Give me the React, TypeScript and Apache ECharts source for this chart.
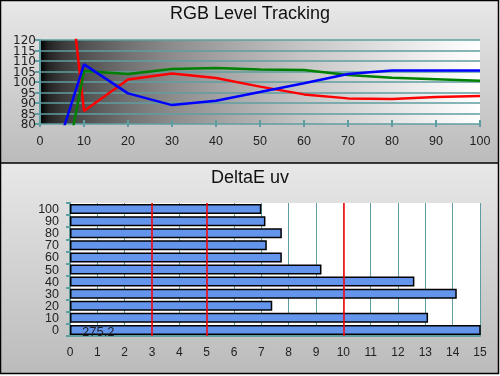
import React, { useEffect, useRef } from "react";
import * as echarts from "echarts";

const levels = [5, 10, 20, 30, 40, 50, 60, 70, 80, 90, 100];
const redValues = [180, 86.2, 101.2, 104.0, 101.9, 97.8, 94.1, 92.2, 91.9, 92.9, 93.3];
const greenValues = [51, 105.2, 103.8, 106.2, 106.7, 106.0, 105.7, 103.3, 102.0, 101.3, 100.6];
const blueValues = [75.5, 108.4, 94.6, 89.0, 91.1, 95.2, 99.4, 103.8, 105.5, 105.5, 105.5];
const levelTicksEven = [80, 90, 100, 110, 120];
const levelTicksOdd = [85, 95, 105, 115];

const deltaCategories = ["0", "10", "20", "30", "40", "50", "60", "70", "80", "90", "100"];
const deltaValues = [275.2, 13.1, 7.4, 14.15, 12.6, 9.2, 7.75, 7.2, 7.75, 7.15, 7.0];
const thresholdLines = [3, 5, 10];

const TEAL = "#5F9EA0";
const FONT = "Arial, 'Liberation Sans', sans-serif";
const YFONT = "'DejaVu Sans', sans-serif";

export default function App() {
  const ref = useRef<HTMLDivElement>(null);
  useEffect(() => {
    document.body.style.margin = "0";
    const chart = echarts.init(ref.current!, undefined, { renderer: "svg" });
    const pair = (vals: number[]) => levels.map((l, i) => [l, vals[i]]);
    const stops = [0, 0.02, 0.05, 0.1, 0.2, 0.3, 0.4, 0.5, 0.6, 0.7, 0.8, 0.9, 1].map((t) => {
      const c = Math.round(Math.sqrt(t) * 255);
      return { offset: t, color: `rgb(${c},${c},${c})` };
    });
    const panelGrad = () =>
      new echarts.graphic.LinearGradient(0, 0, 0, 1, [
        { offset: 0, color: "#e8e8e8" },
        { offset: 1, color: "#bbbbbb" },
      ]);
    const yLabel = {
      margin: 4,
      showMinLabel: true,
      showMaxLabel: true,
      hideOverlap: false,
      fontFamily: YFONT,
      fontSize: 12,
      color: "#222",
    };
    chart.setOption({
      animation: false,
      title: [
        {
          text: "RGB Level Tracking",
          left: "center",
          top: 4,
          padding: 0,
          textStyle: { fontFamily: FONT, fontSize: 18, fontWeight: "normal", color: "#111" },
        },
        {
          text: "DeltaE uv",
          left: "center",
          top: 168,
          padding: 0,
          textStyle: { fontFamily: FONT, fontSize: 18, fontWeight: "normal", color: "#111" },
        },
      ],
      graphic: [
        { type: "rect", z: -30, shape: { x: 0, y: 0, width: 499, height: 163 }, style: { fill: panelGrad() } },
        { type: "rect", z: -30, shape: { x: 0, y: 163, width: 499, height: 211 }, style: { fill: panelGrad() } },
        {
          type: "rect",
          z: -25,
          shape: { x: 40, y: 40, width: 440, height: 84 },
          style: { fill: new echarts.graphic.LinearGradient(0, 0, 1, 0, stops) },
        },
        { type: "rect", z: 50, shape: { x: 0.5, y: 0.5, width: 498, height: 373 }, style: { fill: "none", stroke: "#000", lineWidth: 1.5 } },
        { type: "line", z: 50, shape: { x1: 0, y1: 163, x2: 499, y2: 163 }, style: { stroke: "#000", lineWidth: 1.5 } },
      ],
      grid: [
        { left: 40, top: 40, width: 440, height: 84, show: false },
        { left: 70, top: 203, width: 410, height: 133, show: true, backgroundColor: "#fff", borderWidth: 0 },
      ],
      xAxis: [
        {
          gridIndex: 0,
          type: "value",
          min: 0,
          max: 100,
          interval: 10,
          offset: -4,
          axisLine: { show: false },
          axisTick: { show: true, length: 7, lineStyle: { color: TEAL, width: 2 } },
          axisLabel: { margin: 14, fontFamily: FONT, fontSize: 12.5, color: "#222" },
          splitLine: { show: false },
        },
        {
          gridIndex: 1,
          type: "value",
          min: 0,
          max: 15,
          interval: 1,
          axisLine: { show: true, lineStyle: { color: TEAL, width: 2 } },
          axisTick: { show: true, inside: true, length: 5, lineStyle: { color: TEAL, width: 2 } },
          axisLabel: { margin: 10, fontFamily: FONT, fontSize: 12, color: "#222" },
          splitLine: { show: true, lineStyle: { color: TEAL, width: 1 } },
        },
      ],
      yAxis: [
        {
          gridIndex: 0,
          type: "value",
          position: "left",
          min: 80,
          max: 120,
          interval: 5,
          axisLine: { show: true, lineStyle: { color: TEAL, width: 2 } },
          axisTick: { show: true, length: 5, lineStyle: { color: TEAL, width: 2 } },
          axisLabel: { ...yLabel, customValues: levelTicksEven },
          splitLine: { show: true, lineStyle: { color: TEAL, width: 1.5 } },
        },
        {
          gridIndex: 1,
          type: "category",
          data: deltaCategories,
          axisLine: { show: true, lineStyle: { color: TEAL, width: 2 } },
          axisTick: { show: true, length: 4, lineStyle: { color: TEAL, width: 2 } },
          axisLabel: {
            interval: 0,
            margin: 11,
            hideOverlap: false,
            fontFamily: FONT,
            fontSize: 12.5,
            lineHeight: 11,
            color: "#222",
          },
          splitLine: { show: false },
        },
        {
          gridIndex: 0,
          type: "value",
          position: "right",
          offset: -440,
          min: 80,
          max: 120,
          interval: 5,
          axisLine: { show: false },
          axisTick: { show: false },
          axisLabel: { ...yLabel, inside: true, customValues: levelTicksOdd },
          splitLine: { show: false },
        },
      ],
      series: [
        {
          type: "line",
          xAxisIndex: 0,
          yAxisIndex: 0,
          data: pair(redValues),
          symbol: "none",
          clip: true,
          lineStyle: { color: "#ff0000", width: 2.5 },
          z: 3,
        },
        {
          type: "line",
          xAxisIndex: 0,
          yAxisIndex: 0,
          data: pair(greenValues),
          symbol: "none",
          clip: true,
          lineStyle: { color: "#008000", width: 2.5 },
          z: 3,
        },
        {
          type: "line",
          xAxisIndex: 0,
          yAxisIndex: 0,
          data: pair(blueValues),
          symbol: "none",
          clip: true,
          lineStyle: { color: "#0000ff", width: 2.5 },
          z: 4,
        },
        {
          type: "bar",
          xAxisIndex: 1,
          yAxisIndex: 1,
          data: deltaValues,
          barWidth: 10,
          clip: true,
          itemStyle: { color: "#6495ED", borderColor: "#000", borderWidth: 1.5 },
          label: {
            show: true,
            position: "insideLeft",
            distance: 12,
            offset: [0, 2],
            fontFamily: FONT,
            fontSize: 13,
            color: "#222",
            formatter: (p: any) => (p.dataIndex === 0 ? String(p.value) : ""),
          },
          markLine: {
            silent: true,
            symbol: "none",
            label: { show: false },
            lineStyle: { color: "#ff0000", width: 1.5, type: "solid" },
            data: thresholdLines.map((v) => ({ xAxis: v })),
          },
        },
      ],
    });
    return () => chart.dispose();
  }, []);
  return <div ref={ref} style={{ position: "fixed", left: 0, top: 0, width: 500, height: 376 }} />;
}
